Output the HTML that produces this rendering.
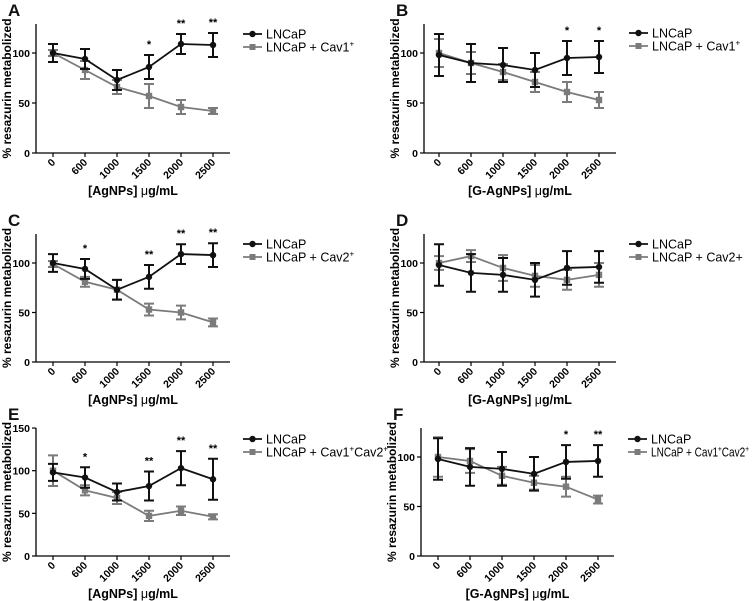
<!DOCTYPE html>
<html><head><meta charset="utf-8">
<style>
html,body{margin:0;padding:0;background:#fff;}
svg{display:block;font-family:"Liberation Sans",Arial,sans-serif;}
</style></head>
<body>
<svg id="fig" width="752" height="601" viewBox="0 0 752 601" xmlns="http://www.w3.org/2000/svg"></svg>
<script>
const categories = ["0","600","1000","1500","2000","2500"];
const yTicksA = [0,50,100];
const yTicksE = [0,50,100,150];

const aBlack = [100,94,73,86,109,108];
const aBlackErr = [9,10,10,12,10,12];
const aGray = [100,83,66,57,46,42];
const aGrayErr = [3,9,7,12,7,3];
const aStars = ["","","","*","**","**"];

const bBlack = [98,90,88,83,95,96];
const bBlackErr = [21,19,17,17,17,16];
const bGray = [100,90,81,71,61,53];
const bGrayErr = [14,11,8,10,10,8];
const bStars = ["","","","","*","*"];

const cBlack = [100,94,73,86,109,108];
const cBlackErr = [9,10,10,12,10,12];
const cGray = [99,81,73,53,50,40];
const cGrayErr = [3,5,10,6,7,4];
const cStars = ["","*","","**","**","**"];

const dBlack = [98,90,88,83,95,96];
const dBlackErr = [21,19,17,17,17,16];
const dGray = [100,107,95,87,83,88];
const dGrayErr = [7,6,13,11,10,12];
const dStars = ["","","","","",""];

const eBlack = [98,92,75,82,103,90];
const eBlackErr = [10,12,10,17,20,24];
const eGray = [100,77,68,47,53,46];
const eGrayErr = [18,6,7,6,5,3];
const eStars = ["","*","","**","**","**"];

const fBlack = [98,90,88,83,95,96];
const fBlackErr = [21,19,17,17,17,16];
const fGray = [100,96,81,74,70,57];
const fGrayErr = [20,12,9,7,10,4];
const fStars = ["","","","","*","**"];

const svg = document.getElementById('fig');
const NS = 'http://www.w3.org/2000/svg';
function mk(tag, attrs, parent){
  const e = document.createElementNS(NS, tag);
  for (const k in attrs) e.setAttribute(k, attrs[k]);
  (parent||svg).appendChild(e);
  return e;
}

function panel(p){
  const g = mk('g', {});
  
  
  const yScale = v => p.y0 - v * p.pxPer;
  const xScale = i => p.x1 + 32 * i;
  const L = mk('text', {x:p.ax - 28, y:p.top - 8, 'font-size':17, 'font-weight':'bold', fill:'#111'}, g);
  L.textContent = p.letter;
  
  
  const ya = mk('line', {x1:p.ax, y1:p.top, x2:p.ax, y2:p.y0+0.5, stroke:'#000', 'stroke-width':1.3}, g);
  
  
  const xa = mk('line', {x1:p.ax, y1:p.y0, x2:p.xEnd, y2:p.y0, stroke:'#000', 'stroke-width':1.3}, g);
  
  
  p.yTicks.forEach(t => {
    const y = yScale(t);
    mk('line', {x1:p.ax-4, y1:y, x2:p.ax, y2:y, stroke:'#000', 'stroke-width':1.2}, g);
    const tx = mk('text', {x:p.ax-6, y:y+4, 'font-size':10.5, 'font-weight':'bold', 'text-anchor':'end'}, g);
    tx.textContent = t;
    
    
  });
  categories.forEach((c, i) => {
    const x = xScale(i);
    mk('line', {x1:x, y1:p.y0, x2:x, y2:p.y0+4, stroke:'#000', 'stroke-width':1.2}, g);
    const tx = mk('text', {x:x+3, y:p.y0+10, 'font-size':10.5, 'font-weight':'bold', 'text-anchor':'end', transform:`rotate(-45 ${x+3} ${p.y0+10})`}, g);
    tx.textContent = c;
    
    
  });
  const yt = mk('text', {x:0, y:0, 'font-size':12, 'font-weight':'bold', 'text-anchor':'middle', transform:`translate(${p.ax-25},${(p.top+p.y0)/2}) rotate(-90)`}, g);
  yt.textContent = '% resazurin metabolized';
  
  
  const xt = mk('text', {x:(p.ax+p.xEnd)/2, y:p.y0+42, 'font-size':12.5, 'font-weight':'bold', 'text-anchor':'middle'}, g);
  xt.innerHTML = p.xTitle + ' <tspan font-weight="normal">μ</tspan>g/mL';
  
  

  function series(vals, errs, color, shape, name){
    const sg = mk('g', {}, g);
    
    
    const pts = vals.map((v,i) => xScale(i) + ',' + yScale(v)).join(' ');
    mk('polyline', {points:pts, fill:'none', stroke:color, 'stroke-width':1.8}, sg);
    vals.forEach((v,i) => {
      const x = xScale(i), yt2 = yScale(v+errs[i]), yb = yScale(v-errs[i]);
      const eb = mk('path', {d:`M${x},${yt2}V${yb}M${x-5},${yt2}H${x+5}M${x-5},${yb}H${x+5}`, stroke:color, 'stroke-width':2, fill:'none'}, sg);
      
      
      let m;
      if (shape === 'circle') m = mk('circle', {cx:x, cy:yScale(v), r:3.2, fill:color}, sg);
      else m = mk('rect', {x:x-3.2, y:yScale(v)-3.2, width:6.4, height:6.4, fill:color}, sg);
      
      
    });
  }
  series(p.gray, p.grayErr, '#7b7b7b', 'square', 'series-treated');
  series(p.black, p.blackErr, '#111', 'circle', 'series-lncap');
  p.stars.forEach((s,i) => {
    if (!s) return;
    const top = Math.min(yScale(p.black[i]+p.blackErr[i]), yScale(p.gray[i]+p.grayErr[i]));
    const st = mk('text', {x:xScale(i), y:top-7, 'font-size':11, 'font-weight':'bold', 'text-anchor':'middle'}, g);
    st.textContent = s;
    
    
  });
  const lg = mk('g', {}, g);
  
  
  const lx = p.legX, ly = p.legY;
  mk('line', {x1:lx, y1:ly, x2:lx+19, y2:ly, stroke:'#111', 'stroke-width':1.8}, lg);
  mk('circle', {cx:lx+9.5, cy:ly, r:3.2, fill:'#111'}, lg);
  const t1 = mk('text', {x:lx+23, y:ly+4.5, 'font-size':12.5}, lg);
  t1.textContent = 'LNCaP';
  
  
  mk('line', {x1:lx, y1:ly+13, x2:lx+19, y2:ly+13, stroke:'#7b7b7b', 'stroke-width':1.8}, lg);
  mk('rect', {x:lx+6.5, y:ly+10, width:6, height:6, fill:'#7b7b7b'}, lg);
  const attrs2 = {x:lx+23, y:ly+17.5, 'font-size':12.5};
  if (p.legLen) { attrs2.textLength = p.legLen; attrs2.lengthAdjust = 'spacingAndGlyphs'; }
  const t2 = mk('text', attrs2, lg);
  t2.innerHTML = p.leg2;
  
  
}

const sup = '<tspan font-size="8" dy="-5">+</tspan>';
const supCav2 = '<tspan font-size="8" dy="-5">+</tspan><tspan dy="5">Cav2</tspan><tspan font-size="8" dy="-5">+</tspan>';
panel({letter:'A', ax:36, top:24, y0:153, pxPer:1, x1:53, xEnd:230, yTicks:yTicksA, xTitle:'[AgNPs]',
  black:aBlack, blackErr:aBlackErr, gray:aGray, grayErr:aGrayErr, stars:aStars, legX:243, legY:34, leg2:'LNCaP + Cav1'+sup});
panel({letter:'B', ax:424, top:24, y0:153, pxPer:1, x1:439, xEnd:616, yTicks:yTicksA, xTitle:'[G-AgNPs]',
  black:bBlack, blackErr:bBlackErr, gray:bGray, grayErr:bGrayErr, stars:bStars, legX:629, legY:33, leg2:'LNCaP + Cav1'+sup});
panel({letter:'C', ax:36, top:234, y0:362, pxPer:0.99, x1:53, xEnd:230, yTicks:yTicksA, xTitle:'[AgNPs]',
  black:cBlack, blackErr:cBlackErr, gray:cGray, grayErr:cGrayErr, stars:cStars, legX:243, legY:244, leg2:'LNCaP + Cav2'+sup});
panel({letter:'D', ax:424, top:234, y0:362, pxPer:0.99, x1:439, xEnd:616, yTicks:yTicksA, xTitle:'[G-AgNPs]',
  black:dBlack, blackErr:dBlackErr, gray:dGray, grayErr:dGrayErr, stars:dStars, legX:629, legY:244, leg2:'LNCaP + Cav2+'});
panel({letter:'E', ax:36, top:428, y0:556, pxPer:0.853, x1:53, xEnd:230, yTicks:yTicksE, xTitle:'[AgNPs]',
  black:eBlack, blackErr:eBlackErr, gray:eGray, grayErr:eGrayErr, stars:eStars, legX:243, legY:439, leg2:'LNCaP + Cav1'+supCav2});
panel({letter:'F', ax:421, top:428, y0:556, pxPer:0.99, x1:438, xEnd:614, yTicks:yTicksA, xTitle:'[G-AgNPs]',
  black:fBlack, blackErr:fBlackErr, gray:fGray, grayErr:fGrayErr, stars:fStars, legX:628, legY:439, legLen:98, leg2:'LNCaP + Cav1'+supCav2});
</script>
</body></html>
